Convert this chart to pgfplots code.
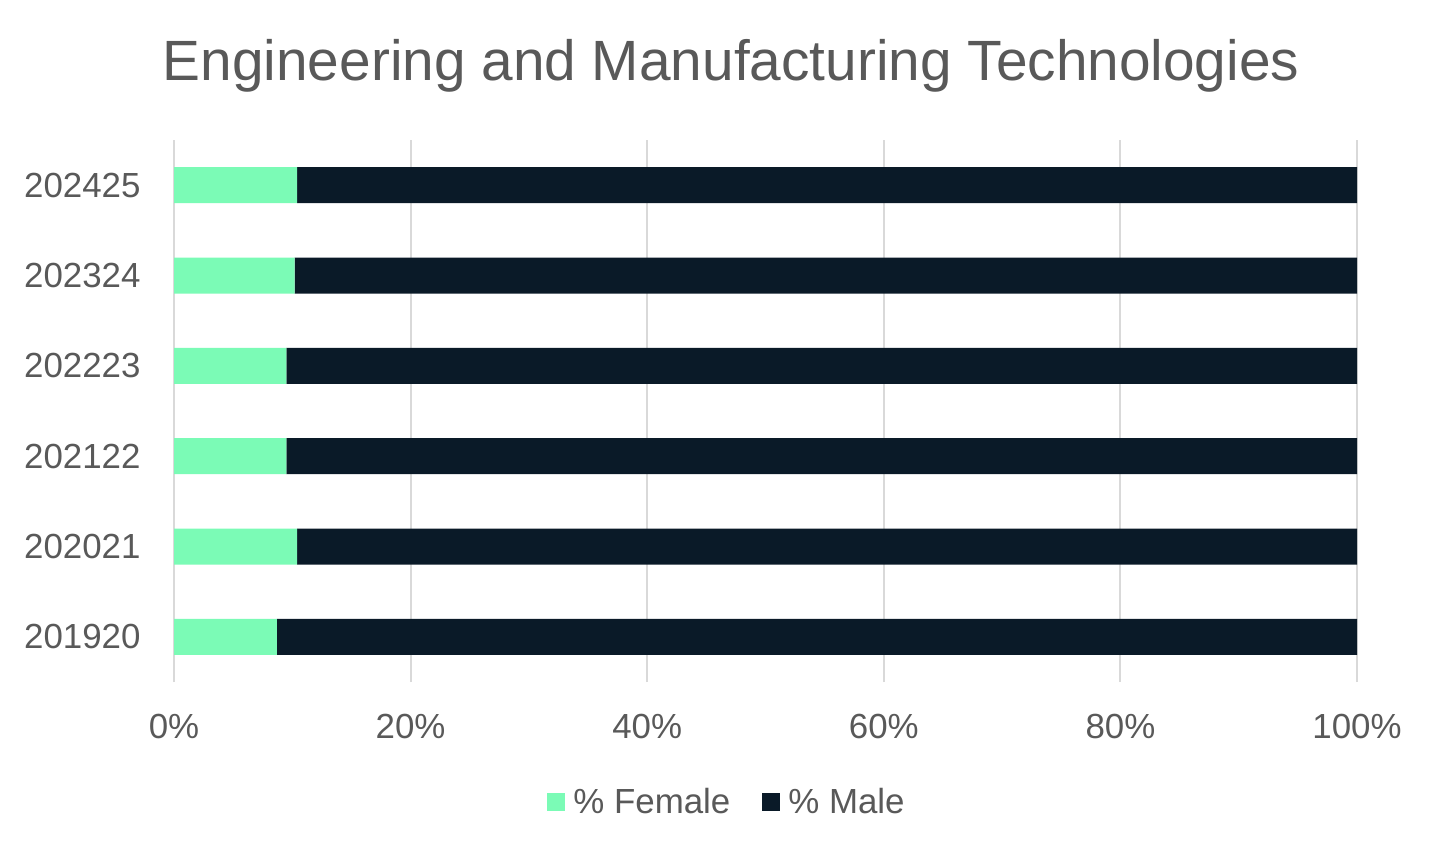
\documentclass[border=0pt]{standalone}
\usepackage{pgfplots}
\pgfplotsset{compat=1.18}
\usepackage{fontspec}
\setmainfont{Liberation Sans}
\definecolor{fem}{HTML}{7BFBB6}
\definecolor{mal}{HTML}{0A1A28}
\definecolor{txt}{HTML}{595959}
\definecolor{grd}{HTML}{D9D9D9}
\begin{document}
\begin{tikzpicture}[x=1bp,y=1bp]
\useasboundingbox (0,0) rectangle (1446,-846);
\node[text=txt,font=\fontsize{57}{66}\selectfont,anchor=base] at (731,-80) {Engineering and Manufacturing Technologies};
\begin{axis}[
  at={(174bp,-682bp)}, anchor=south west,
  scale only axis, width=1183bp, height=542bp,
  xbar stacked, bar width=36bp,
  xmin=0, xmax=100,
  ymin=-0.5, ymax=5.5,
  ytick={0,...,5},
  yticklabels={201920,202021,202122,202223,202324,202425},
  xtick={0,20,40,60,80,100},
  xticklabel={\pgfmathprintnumber{\tick}\%},
  /pgf/number format/assume math mode=true,
  axis line style={draw=none},
  major tick length=0pt,
  xmajorgrids, grid style={grd, line width=2bp},
  tick label style={text=txt, font=\fontsize{35}{42}\selectfont},
  yticklabel style={xshift=-30bp},
  xticklabel style={yshift=-29bp},
  legend style={at={(0.4675,-0.221)}, anchor=center, draw=none,
    legend columns=2, font=\fontsize{35}{42}\selectfont, text=txt,
    /tikz/every odd column/.append style={column sep=6bp},
    /tikz/every even column/.append style={column sep=30bp}},
  legend image code/.code={\fill[#1] (0bp,-9bp) rectangle (18bp,9bp);},
]
\addplot[fill=fem, draw=none] coordinates {(8.7,0) (10.4,1) (9.5,2) (9.5,3) (10.2,4) (10.4,5)};
\addplot[fill=mal, draw=none] coordinates {(91.3,0) (89.6,1) (90.5,2) (90.5,3) (89.8,4) (89.6,5)};
\legend{\% Female,\% Male}
\end{axis}
\end{tikzpicture}
\end{document}
